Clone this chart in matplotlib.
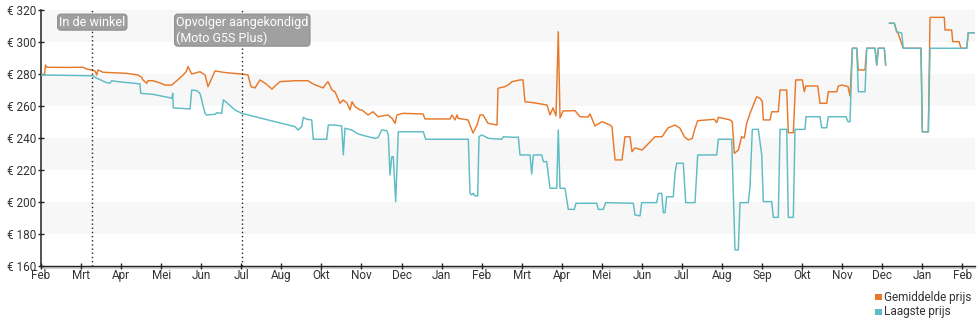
import numpy as np
import matplotlib
matplotlib.use("Agg")
import matplotlib.pyplot as plt
from matplotlib.patches import Rectangle
from matplotlib.transforms import blended_transform_factory

plt.rcParams['font.family'] = ['Roboto', 'DejaVu Sans']

# x positions are in tick units: 0 = first "Feb" tick, 1 = next tick, ...
month_labels = ["Feb", "Mrt", "Apr", "Mei", "Jun", "Jul", "Aug", "Okt", "Nov", "Dec",
                "Jan", "Feb", "Mrt", "Apr", "Mei", "Jun", "Jul", "Aug", "Sep", "Okt",
                "Nov", "Dec", "Jan", "Feb"]
price_ticks = [160, 180, 200, 220, 240, 260, 280, 300, 320]

# Gemiddelde prijs (average price)
avg_t = [0.000, 0.087, 0.112, 0.150, 0.599, 1.048, 1.141, 1.266, 1.348, 1.390, 1.423, 1.548,
         2.139, 2.421, 2.514, 2.546, 2.639, 2.671, 2.796, 2.971, 3.095, 3.263, 3.388, 3.545,
         3.620, 3.670, 3.762, 3.969, 4.094, 4.169, 4.244, 4.344, 4.593, 5.010, 5.167, 5.242,
         5.342, 5.467, 5.617, 5.766, 5.866, 5.966, 6.341, 6.665, 6.790, 6.915, 7.040, 7.114,
         7.164, 7.264, 7.339, 7.464, 7.539, 7.639, 7.714, 7.764, 7.838, 7.963, 8.013, 8.163,
         8.288, 8.413, 8.662, 8.762, 8.837, 8.887, 9.037, 9.536, 9.586, 10.210, 10.260, 10.335,
         10.385, 10.410, 10.659, 10.784, 10.884, 10.959, 11.034, 11.158, 11.383, 11.408, 11.583,
         11.658, 11.758, 11.957, 12.032, 12.082, 12.332, 12.631, 12.706, 12.781, 12.856, 12.913,
         12.956, 13.031, 13.330, 13.455, 13.655, 13.705, 13.829, 14.004, 14.204, 14.254, 14.329,
         14.503, 14.578, 14.703, 14.753, 14.828, 15.003, 15.127, 15.327, 15.502, 15.652, 15.826,
         15.951, 16.059, 16.158, 16.258, 16.326, 16.393, 16.807, 16.867, 16.907, 17.032, 17.199,
         17.257, 17.307, 17.407, 17.491, 17.556, 17.616, 17.699, 17.781, 17.866, 17.948, 18.006,
         18.031, 18.198, 18.240, 18.405, 18.448, 18.615, 18.655, 18.780, 18.839, 19.004, 19.054,
         19.089, 19.389, 19.446, 19.613, 19.653, 19.863, 19.903, 19.995, 20.145, 20.195, 20.253,
         20.362, 20.402, 20.569, 20.612, 20.819, 20.862, 20.902, 21.051, 21.086, 21.130,
         21.181, 21.301, 21.361, 21.393, 21.525, 21.967, 22.000, 22.150, 22.192, 22.549, 22.566,
         22.733, 22.758, 22.916, 22.966, 23.108, 23.148, 23.315]
avg_price = [279.4, 279.4, 285.6, 284.2, 284.1, 284.2, 283.1, 282.5, 281.9, 279.4, 282.5, 281.1,
             280.4, 279.4, 277.9, 276.3, 274.2, 275.8, 275.8, 274.4, 273.1, 273.1, 275.8, 279.4,
             281.3, 284.6, 280.0, 281.4, 279.4, 272.1, 276.3, 281.9, 280.9, 280.0, 279.4, 272.1,
             271.3, 276.3, 273.8, 270.6, 273.1, 275.2, 275.8, 275.8, 273.8, 272.5, 271.3, 273.8,
             275.2, 270.0, 268.9, 261.7, 263.8, 261.9, 257.5, 262.7, 259.6, 257.5, 257.5, 254.4,
             256.4, 253.3, 254.4, 252.3, 249.2, 254.4, 255.4, 255.0, 251.9, 251.9, 254.4, 251.3,
             254.4, 252.3, 251.3, 243.1, 248.1, 254.4, 254.4, 249.2, 248.1, 271.1, 272.1,
             273.1, 275.2, 276.3, 276.3, 262.7, 261.9, 260.6, 254.4, 258.8, 253.8, 306.4,
             252.5, 256.9, 257.1, 253.3, 253.1, 255.0, 247.5, 250.2, 248.1, 246.9, 226.3,
             226.3, 240.8, 240.8, 231.4, 233.8, 232.5, 235.6, 240.8, 240.8, 246.3, 248.1,
             246.1, 240.8, 238.8, 239.8, 246.1, 250.8, 251.7, 249.6, 252.9, 252.3, 251.3,
             250.2, 230.4, 232.5, 240.8, 240.0, 249.2, 255.4, 260.6, 265.8, 264.8, 262.7,
             251.3, 251.3, 256.4, 256.4, 270.0, 270.0, 243.3, 243.3, 276.3, 276.3, 268.9,
             272.5, 272.5, 261.7, 261.7, 268.9, 268.9, 272.5, 273.1, 272.1, 266.3, 296.1,
             296.1, 282.5, 282.5, 296.1, 296.1, 285.6, 296.1, 296.1, 285.6, np.nan,
             311.7, 311.7, 306.4, 305.6, 296.1, 296.1, 243.9, 243.9, 315.4, 315.4, 307.5,
             307.5, 300.2, 300.2, 296.1, 296.1, 305.8, 305.8]

# Laagste prijs (lowest price)
low_t = [0.000, 1.306, 1.348, 1.640, 1.722, 1.765, 1.922, 2.471, 2.489, 2.796, 3.170, 3.263,
         3.288, 3.303, 3.720, 3.762, 3.887, 3.969, 4.094, 4.136, 4.344, 4.386, 4.511, 4.551,
         4.636, 4.843, 5.010, 5.342, 5.841, 6.341, 6.415, 6.508, 6.548, 6.633, 6.757, 6.797,
         7.132, 7.172, 7.339, 7.506, 7.546, 7.589, 7.756, 7.921, 8.088, 8.338, 8.420, 8.505,
         8.630, 8.670, 8.712, 8.755, 8.794, 8.854, 8.919, 9.543, 9.603, 10.667, 10.709, 10.751,
         10.791, 10.834, 10.901, 10.934, 11.001, 11.166, 11.500, 11.540, 11.832, 11.915, 11.957,
         12.207, 12.249, 12.289, 12.499, 12.539, 12.624, 12.706, 12.873, 12.913, 12.956, 13.080,
         13.163, 13.313, 13.355, 13.872, 13.912, 14.037, 14.096, 14.785, 14.828, 14.953, 14.995,
         15.370, 15.410, 15.495, 15.534, 15.577, 15.619, 15.784, 15.826, 15.869, 16.034, 16.093,
         16.326, 16.393, 16.867, 16.907, 17.242, 17.324, 17.407, 17.449, 17.656, 17.699, 17.756,
         17.906, 17.991, 18.031, 18.240, 18.281, 18.405, 18.448, 18.615, 18.655, 18.780, 18.822,
         19.071, 19.096, 19.446, 19.488, 19.613, 19.653, 20.095, 20.145, 20.195, 20.253, 20.362,
         20.402, 20.569, 20.612, 20.819, 20.862, 20.902, 21.051, 21.086, 21.130,
         21.181, 21.301, 21.361, 21.486, 21.525, 21.967, 22.000, 22.150, 22.192, 23.108, 23.148,
         23.315]
low_price = [279.4, 278.9, 277.9, 274.6, 274.2, 275.8, 275.2, 273.8, 267.9, 267.3, 265.4, 264.8,
             267.9, 258.9, 258.1, 270.0, 269.6, 267.9, 255.4, 254.4, 254.8, 255.8, 255.4, 263.8,
             262.1, 257.5, 255.4, 253.3, 250.2, 247.1, 245.0, 247.1, 252.9, 251.7, 251.3, 239.2,
             239.2, 248.1, 248.1, 247.5, 229.4, 246.1, 245.0, 242.5, 241.3, 239.8, 240.4, 245.0,
             244.6, 241.9, 216.9, 228.3, 228.3, 200.2, 243.9, 243.9, 239.2, 239.2, 205.4, 204.4,
             205.4, 203.8, 203.8, 240.8, 241.9, 239.8, 239.2, 240.8, 240.4, 240.6, 229.4,
             229.4, 217.5, 229.4, 229.4, 225.2, 225.2, 208.6, 208.6, 245.0, 208.6, 208.6,
             195.4, 195.4, 199.2, 199.2, 195.4, 195.4, 199.6, 199.2, 191.9, 191.3, 199.6,
             199.6, 205.4, 205.4, 193.3, 193.3, 203.3, 203.3, 217.9, 224.2, 224.2, 199.6,
             199.6, 229.4, 229.4, 239.2, 239.2, 170.0, 170.0, 199.6, 199.6, 209.6, 245.4,
             245.4, 229.4, 200.2, 200.2, 190.4, 190.4, 245.4, 245.4, 190.4, 190.4, 245.4,
             245.4, 253.3, 253.3, 246.4, 246.4, 253.3, 253.3, 250.2, 250.2, 296.1, 296.1,
             268.9, 268.9, 296.1, 296.1, 285.6, 296.1, 296.1, 285.6, np.nan,
             311.7, 311.7, 306.4, 305.6, 296.1, 296.1, 243.9, 243.9, 296.1, 296.1, 305.8,
             305.8]

# Events marked on the timeline
event_t = [1.281, 5.025]
event_labels = ["In de winkel", "Opvolger aangekondigd\n(Moto G5S Plus)"]

series_names = ["Gemiddelde prijs", "Laagste prijs"]
series_colors = ["#e8792b", "#5ebcc5"]

fig = plt.figure(figsize=(9.8, 3.25), dpi=100)
ax = fig.add_axes([41 / 980, 59 / 325, 934 / 980, 256 / 325])

# alternating background bands
for lo in price_ticks[1::2]:
    ax.axhspan(lo, lo + 20, color="#f7f7f7", lw=0, zorder=0)

ax.plot(avg_t, avg_price, color=series_colors[0], lw=1.05, zorder=3)
ax.plot(low_t, low_price, color=series_colors[1], lw=1.05, zorder=4)

ax.set_xlim(0, 23.315)
ax.set_ylim(160, 320)

ax.set_xticks(range(len(month_labels)))
ax.set_xticklabels(month_labels)
ax.set_yticks(price_ticks)
ax.set_yticklabels([f"€ {v}" for v in price_ticks])
ax.tick_params(axis="x", direction="inout", length=5, width=1, pad=0,
               labelsize=8.5, labelcolor="#333333", color="#222222")
ax.tick_params(axis="y", direction="inout", length=5, width=1, pad=1,
               labelsize=8.5, labelcolor="#333333", color="#222222")

for side in ("top", "right"):
    ax.spines[side].set_visible(False)
ax.spines["left"].set_color("#222222")
ax.spines["left"].set_linewidth(1.1)
ax.spines["bottom"].set_color("#222222")
ax.spines["bottom"].set_linewidth(1.0)
ax.plot([0, 1], [-0.006, -0.006], transform=ax.transAxes, color="#c8c8c8",
        lw=1.2, clip_on=False, zorder=1)

# event markers with labels
trans = blended_transform_factory(ax.transData, ax.transAxes)
for t, label in zip(event_t, event_labels):
    ax.axvline(t, color="#222222", lw=1.0, ls=(0, (1, 2)), zorder=5)
    ax.text(t, 0.978, label, transform=trans, ha="center", va="top",
            multialignment="left", color="white", fontsize=9, linespacing=1.25,
            zorder=6,
            bbox=dict(boxstyle="round,pad=0.12,rounding_size=0.25",
                      fc="#a0a0a0", ec="#8c8c8c", lw=0.8))

# legend
for i, (name, col) in enumerate(zip(series_names, series_colors)):
    yc = 297 + 15 * i
    fig.add_artist(Rectangle((875 / 980, (325 - yc - 3) / 325), 6.5 / 980, 6 / 325,
                             transform=fig.transFigure, color=col, lw=0))
    fig.text(884 / 980, (325 - yc) / 325, name, ha="left", va="center",
             fontsize=8.5, color="#333333")

fig.savefig("out.png", dpi=100)
